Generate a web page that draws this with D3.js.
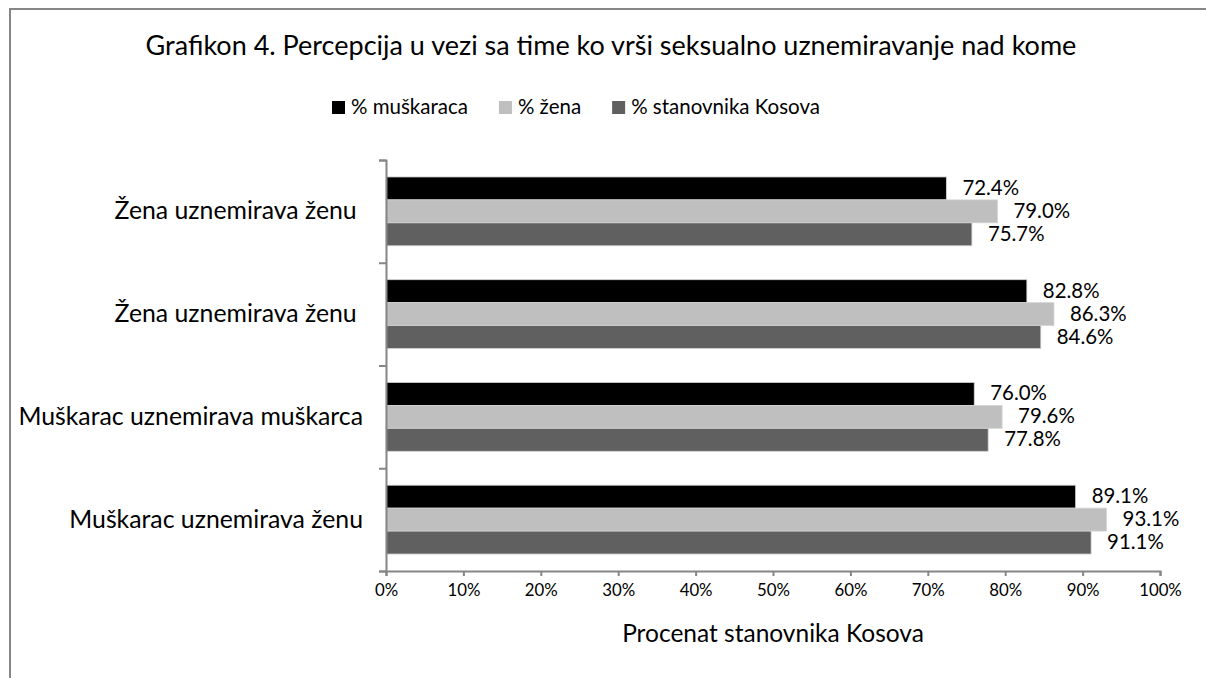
<!DOCTYPE html>
<html>
<head>
<meta charset="utf-8">
<script src="https://cdn.jsdelivr.net/npm/d3@7"></script>
<style>
  body { margin: 0; background: #fff; }
  svg text { font-family: Lato, "Open Sans", sans-serif; fill: #000; }
  .cat { white-space: pre; }
</style>
</head>
<body>
<script>
// chart data
var categories = ["Žena uznemirava ženu ", "Žena uznemirava ženu ", "Muškarac uznemirava muškarca", "Muškarac uznemirava ženu"];
var seriesNames = ["% muškaraca", "% žena", "% stanovnika Kosova"];
var muskarci = [72.4, 82.8, 76.0, 89.1];
var zene = [79.0, 86.3, 79.6, 93.1];
var stanovnici = [75.7, 84.6, 77.8, 91.1];
var xTicks = [0, 10, 20, 30, 40, 50, 60, 70, 80, 90, 100];
var colors = ["#000000", "#bfbfbf", "#606060"];

var W = 1206, H = 678;
var margin = {top: 160, right: 46, bottom: 107, left: 386},
    width = W - margin.left - margin.right,
    height = H - margin.top - margin.bottom;

var values = [muskarci, zene, stanovnici];

var svg = d3.select("body").append("svg")
    .attr("width", W)
    .attr("height", H);

// outer frame
svg.append("rect")
    .attr("x", 10).attr("y", 9)
    .attr("width", 1210).attr("height", 690)
    .attr("fill", "none")
    .attr("stroke", "#868686")
    .attr("stroke-width", 2);

// title
svg.append("text")
    .attr("x", 611).attr("y", 55)
    .attr("text-anchor", "middle")
    .style("font-size", "27px")
    .text("Grafikon 4. Percepcija u vezi sa time ko vrši seksualno uznemiravanje nad kome");

var g = svg.append("g")
    .attr("transform", "translate(" + margin.left + "," + margin.top + ")");

var x = d3.scaleLinear().domain([0, 100]).range([0, width]);
var y = d3.scaleBand().domain(d3.range(categories.length)).range([0, height])
    .paddingInner(0.33).paddingOuter(0.165);
var ySub = d3.scaleBand().domain(d3.range(seriesNames.length)).range([0, y.bandwidth()]);
var yLin = d3.scaleLinear().domain([0, categories.length]).range([0, height]);

// bars
var groups = g.selectAll(".grp")
    .data(categories)
  .enter().append("g")
    .attr("class", "grp")
    .attr("transform", function(d, i) { return "translate(0," + y(i) + ")"; });

groups.each(function(c, ci) {
  var grp = d3.select(this);
  seriesNames.forEach(function(s, si) {
    var v = values[si][ci];
    grp.append("rect")
        .attr("x", 0)
        .attr("y", ySub(si))
        .attr("width", x(v))
        .attr("height", ySub.bandwidth())
        .attr("fill", colors[si])
        .attr("stroke", "#d4d4d4")
        .attr("stroke-width", 0.8);
    grp.append("text")
        .attr("x", x(v) + 16)
        .attr("y", ySub(si) + ySub.bandwidth() / 2)
        .attr("dy", "0.32em")
        .style("font-size", "20.4px")
        .text(v.toFixed(1) + "%");
  });
});

// x axis
var xAxis = g.append("g")
    .attr("transform", "translate(0," + height + ")")
    .call(d3.axisBottom(x).tickValues(xTicks).tickSize(5).tickPadding(8)
      .tickFormat(function(d) { return d + "%"; }));
xAxis.selectAll("text").style("font-size", "16.8px");

// y axis, ticks between categories
var yAxis = g.append("g")
    .call(d3.axisLeft(yLin).tickValues(d3.range(categories.length + 1)).tickSize(7).tickFormat(""));

g.selectAll(".domain, .tick line")
    .attr("stroke", "#868686")
    .attr("stroke-width", 2);

// category labels
g.selectAll(".cat")
    .data(categories)
  .enter().append("text")
    .attr("class", "cat")
    .attr("x", -23)
    .attr("y", function(d, i) { return y(i) + y.bandwidth() / 2; })
    .attr("dy", "0.32em")
    .attr("text-anchor", "end")
    .style("font-size", "24.8px")
    .text(function(d) { return d; });

// axis title
svg.append("text")
    .attr("x", margin.left + width / 2).attr("y", 642)
    .attr("text-anchor", "middle")
    .style("font-size", "24.5px")
    .text("Procenat stanovnika Kosova");

// legend
var legend = svg.append("g").attr("transform", "translate(332,100)");
var lx = 0;
seriesNames.forEach(function(s, i) {
  var item = legend.append("g").attr("transform", "translate(" + lx + ",0)");
  item.append("rect")
      .attr("width", 13).attr("height", 13)
      .attr("y", 1)
      .attr("fill", colors[i]);
  var t = item.append("text")
      .attr("x", 19).attr("y", 13.5)
      .style("font-size", "20.5px")
      .text(s);
  lx += 19 + t.node().getComputedTextLength() + 31;
});
</script>
</body>
</html>
